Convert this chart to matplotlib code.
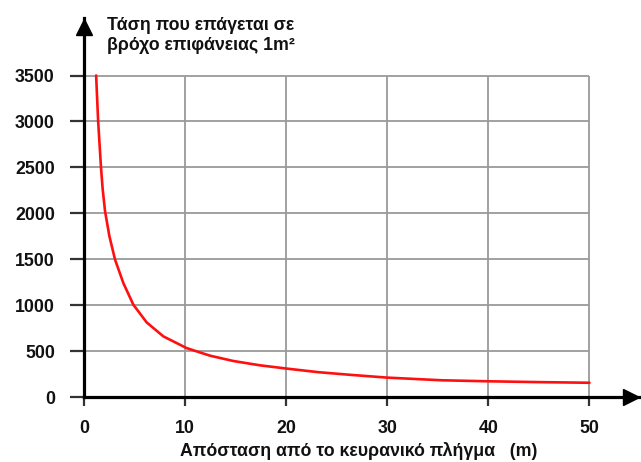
import numpy as np
import matplotlib
matplotlib.use("Agg")
import matplotlib.pyplot as plt

plt.rcParams['font.family'] = ['Liberation Sans', 'DejaVu Sans']

apostasi = [1.2, 1.4, 1.68, 1.85, 2.08, 2.51, 3.07, 3.89, 4.88,
            6.2, 7.85, 10.16, 12.46, 14.77, 17.4, 20, 23.2, 26.5, 30, 35.4,
            40, 45, 50]
tasi = [3500, 3000, 2500, 2260, 2024, 1751, 1496, 1241, 1005,
        812, 660, 532, 450, 392, 345, 310, 270, 240, 211, 182,
        171, 162, 155]

y_ticks = [0, 500, 1000, 1500, 2000, 2500, 3000, 3500]
x_ticks = [0, 10, 20, 30, 40, 50]

titlos_y = "Τάση που επάγεται σε\nβρόχο επιφάνειας 1m²"
titlos_x = "Απόσταση από το κευρανικό πλήγμα   (m)"

W, H = 641, 462
fig = plt.figure(figsize=(W / 100, H / 100), dpi=100)
ax = fig.add_axes([84 / W, (H - 397) / H, (640 - 84) / W, (397 - 18) / H])

ax.set_xlim(0, 55.0)
ax.set_ylim(0, 4126)

# siatka tylko w obszarze danych
ax.hlines(y_ticks[1:], 0, 50, colors='#9a9a9a', linewidth=1.3, zorder=1)
ax.vlines(x_ticks[1:], 0, 3500, colors='#9a9a9a', linewidth=1.3, zorder=1)

ax.plot(apostasi, tasi, color='#ff1010', linewidth=1.9, zorder=3,
        solid_joinstyle='round', solid_capstyle='round')

for s in ['top', 'right']:
    ax.spines[s].set_visible(False)
for s in ['left', 'bottom']:
    ax.spines[s].set_linewidth(2.3)
    ax.spines[s].set_color('black')
    ax.spines[s].set_zorder(4)

# strzałki na końcach osi
ax.plot(0.984, 0, marker='>', ms=12, color='black',
        transform=ax.get_yaxis_transform(), clip_on=False, zorder=5)
ax.plot(0, 0.976, marker='^', ms=12, color='black',
        transform=ax.get_xaxis_transform(), clip_on=False, zorder=5)

fs = 12.8
ax.set_yticks(y_ticks)
ax.set_xticks(x_ticks)
ax.set_yticklabels([str(v) for v in y_ticks], fontweight='bold', fontsize=fs, color='#111111')
ax.set_xticklabels([str(v) for v in x_ticks], fontweight='bold', fontsize=fs, color='#111111')
ax.tick_params(axis='y', direction='out', length=10, width=1.6, color='#333333', pad=11)
ax.tick_params(axis='x', direction='out', length=6.5, width=1.6, color='#333333', pad=10)

fig.text(107 / W, 1 - 17 / H, titlos_y, ha='left', va='top', fontweight='bold',
         fontsize=fs, linespacing=1.22, color='#111111')
fig.text(359 / W, (H - 456) / H, titlos_x, ha='center', va='baseline',
         fontweight='bold', fontsize=fs, color='#111111')

fig.savefig("out.png", dpi=100)
